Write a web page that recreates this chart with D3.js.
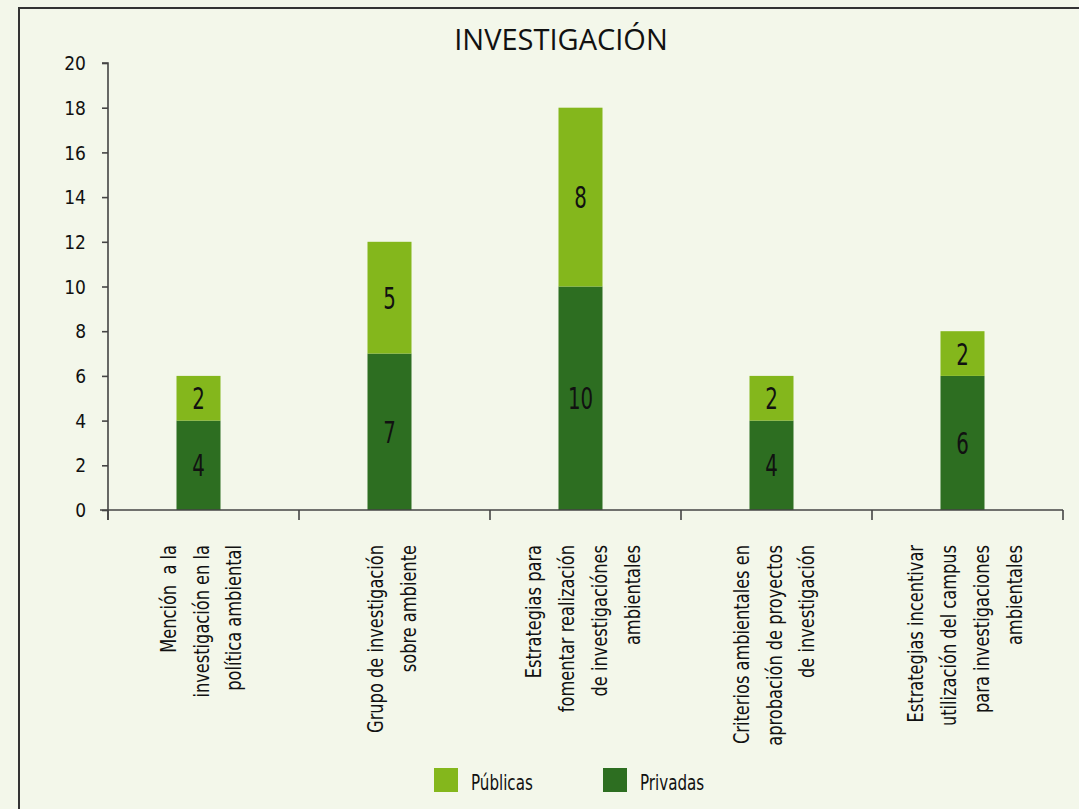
<!DOCTYPE html>
<html>
<head>
<meta charset="utf-8">
<script src="https://cdn.jsdelivr.net/npm/d3@7"></script>
<style>
  body { margin: 0; background: #f3f7ea; }
  svg text { font-family: "DejaVu Sans Condensed", "DejaVu Sans", sans-serif; font-stretch: condensed; fill: #111; white-space: pre; }
</style>
</head>
<body>
<div id="chart"></div>
<script>
// data
var categories = [
    ["Mención  a la", "investigación en la", "política ambiental"],
    ["Grupo de investigación", "sobre ambiente"],
    ["Estrategias para", "fomentar realización", "de investigaciónes", "ambientales"],
    ["Criterios ambientales en", "aprobación de proyectos", "de investigación"],
    ["Estrategias incentivar", "utilización del campus", "para investigaciones", "ambientales"]
];
var privadas = [4, 7, 10, 4, 6];
var publicas = [2, 5, 8, 2, 2];
var yTicks = [0, 2, 4, 6, 8, 10, 12, 14, 16, 18, 20];
var seriesNames = ["Públicas", "Privadas"];

var colors = { "Privadas": "#2d6e21", "Públicas": "#84b71c" };

var width = 1079, height = 809;
var svg = d3.select("#chart")
    .append("svg")
    .attr("width", width)
    .attr("height", height);

svg.append("rect")
    .attr("width", width).attr("height", height)
    .attr("fill", "#f3f7ea");

// frame
svg.append("path")
    .attr("d", "M19,820 V8 H1090")
    .attr("fill", "none")
    .attr("stroke", "#333")
    .attr("stroke-width", 2);

svg.append("text")
    .attr("x", 561).attr("y", 50)
    .attr("text-anchor", "middle")
    .style("font-family", "'Open Sans', sans-serif")
    .style("font-stretch", "normal")
    .style("font-size", "29px")
    .text("INVESTIGACIÓN");

var x = d3.scaleBand()
    .domain(d3.range(categories.length))
    .range([108, 1063]);

var y = d3.scaleLinear()
    .domain([0, 20])
    .range([510, 63]);

var rows = privadas.map(function (d, i) {
    return { idx: i, Privadas: d, "Públicas": publicas[i] };
});
var stack = d3.stack().keys(["Privadas", "Públicas"]);
var layers = stack(rows);

var barW = 44;
function barCenter(i) { return x(i) + x.bandwidth() / 2 - 5; }

layers.forEach(function (layer) {
    var g = svg.append("g");
    g.selectAll("rect")
        .data(layer).enter()
        .append("rect")
        .attr("x", function (d, i) { return barCenter(i) - barW / 2; })
        .attr("y", function (d) { return y(d[1]); })
        .attr("width", barW)
        .attr("height", function (d) { return y(d[0]) - y(d[1]); })
        .attr("fill", colors[layer.key]);

    g.selectAll("text")
        .data(layer).enter()
        .append("text")
        .attr("transform", function (d, i) {
            return "translate(" + barCenter(i) + "," + ((y(d[0]) + y(d[1])) / 2 + 11) + ") scale(0.88,1.18)";
        })
        .attr("text-anchor", "middle")
        .style("font-size", "25px")
        .text(function (d) { return d[1] - d[0]; });
});

// y axis
var yAxis = d3.axisLeft(y).tickValues(yTicks).tickSize(6).tickPadding(16);
var gy = svg.append("g")
    .attr("transform", "translate(108,0)")
    .call(yAxis);
gy.select(".domain").attr("d", "M-6,63 H0 V520");
gy.selectAll("line, .domain").attr("stroke", "#444").attr("stroke-width", 1.6);
gy.selectAll("text")
    .style("font-size", "19px")
    .style("font-family", null)
    .attr("dy", "0.35em")
    .style("fill", "#111");

// x axis: ticks at band boundaries
var boundaries = d3.range(categories.length + 1).map(function (i) {
    return i < categories.length ? x(i) : x.range()[1];
});
svg.append("line")
    .attr("x1", 100).attr("x2", 1063)
    .attr("y1", 510).attr("y2", 510)
    .attr("stroke", "#444").attr("stroke-width", 1.6);
svg.selectAll(".xtick")
    .data(boundaries).enter()
    .append("line")
    .attr("x1", function (d) { return d; })
    .attr("x2", function (d) { return d; })
    .attr("y1", 510).attr("y2", 520)
    .attr("stroke", "#444").attr("stroke-width", 1.6);

// category labels, rotated
var lineGap = 33;
categories.forEach(function (lines, i) {
    var cx = barCenter(i) + 2;
    var t = svg.append("text")
        .attr("transform", "translate(" + cx + ",545) rotate(-90) scale(0.82,1)")
        .attr("text-anchor", "end")
        .style("font-size", "22px");
    lines.forEach(function (ln, j) {
        t.append("tspan")
            .attr("x", 0)
            .attr("y", (j - (lines.length - 1) / 2) * lineGap + 8)
            .text(ln);
    });
});

// legend
var legend = svg.selectAll(".legend")
    .data(seriesNames).enter()
    .append("g")
    .attr("transform", function (d, i) { return "translate(" + (434 + i * 169) + ",768)"; });
legend.append("rect")
    .attr("width", 24).attr("height", 24)
    .attr("fill", function (d) { return colors[d]; });
legend.append("text")
    .attr("transform", "translate(37,22) scale(0.8,1)")
    .style("font-size", "21px")
    .text(function (d) { return d; });
</script>
</body>
</html>
